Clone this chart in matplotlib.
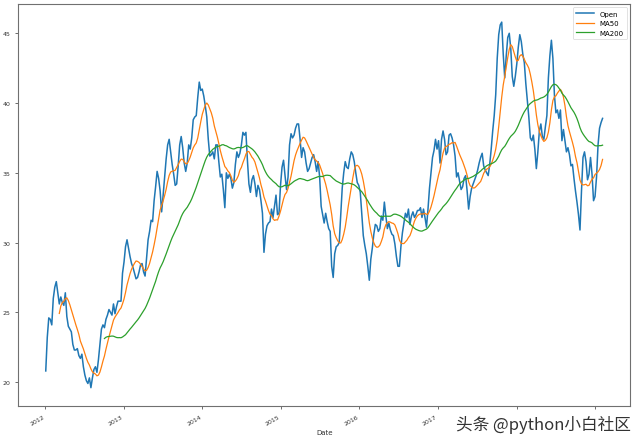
import numpy as np
import pandas as pd
import matplotlib
matplotlib.use('Agg')
import matplotlib.pyplot as plt

# weekly opening prices (Jan 2012 - Feb 2019)
start_date = '2012-01-03'
open_prices = [
    20.8, 23.2, 24.6, 24.5, 24.1, 26.0, 26.8, 27.2, 26.4, 25.6,
    26.1, 25.7, 25.5, 26.4, 24.7, 24.0, 23.8, 23.6, 22.7, 22.3,
    22.3, 22.4, 21.9, 21.7, 22.0, 21.1, 20.5, 20.1, 19.9, 20.3,
    19.6, 20.3, 20.9, 21.1, 20.7, 21.6, 22.7, 23.8, 24.1, 23.9,
    24.5, 24.8, 25.2, 25.0, 24.8, 25.6, 24.9, 25.4, 25.8, 25.8,
    25.8, 27.8, 28.6, 29.7, 30.2, 29.6, 29.0, 28.5, 28.2, 27.8,
    27.4, 27.5, 27.9, 28.4, 28.5, 27.9, 27.6, 28.9, 30.2, 30.8,
    31.6, 31.5, 33.0, 34.0, 35.1, 34.6, 33.7, 32.2, 33.4, 34.7,
    36.0, 37.0, 37.4, 36.5, 35.6, 34.9, 34.1, 34.2, 35.5, 37.0,
    37.6, 36.8, 35.7, 35.1, 35.7, 37.0, 36.7, 37.5, 38.8, 39.0,
    39.1, 40.4, 41.5, 40.9, 41.0, 40.5, 39.8, 39.0, 37.4, 36.2,
    36.3, 36.5, 36.0, 37.0, 37.0, 35.8, 34.7, 34.9, 33.8, 32.5,
    35.0, 34.6, 34.9, 34.6, 33.9, 34.3, 35.6, 36.5, 36.1, 36.4,
    37.0, 37.9, 37.7, 37.9, 35.9, 34.2, 33.6, 34.5, 34.8, 34.2,
    33.3, 34.1, 33.8, 33.0, 32.1, 29.3, 30.6, 31.2, 31.4, 31.5,
    32.4, 31.8, 32.6, 33.4, 32.0, 32.1, 34.1, 35.4, 35.9, 34.8,
    33.8, 34.7, 37.0, 37.8, 37.5, 37.7, 38.2, 38.5, 38.5, 37.4,
    36.1, 36.8, 36.5, 35.7, 35.1, 35.3, 35.7, 36.1, 36.3, 35.8,
    35.1, 35.8, 34.7, 32.6, 32.0, 31.4, 32.1, 31.5, 31.0, 30.8,
    28.3, 27.5, 29.2, 29.7, 29.8, 30.0, 31.9, 33.9, 35.0, 35.8,
    35.4, 35.3, 36.0, 36.5, 36.3, 35.8, 35.0, 34.3, 34.1, 33.6,
    32.1, 30.5, 29.8, 29.2, 28.3, 27.3, 28.8, 29.6, 30.6, 31.3,
    31.2, 30.8, 31.0, 31.9, 31.6, 32.9, 31.9, 31.0, 31.4, 30.9,
    30.6, 30.5, 29.9, 29.0, 28.3, 28.3, 29.7, 30.7, 31.4, 32.1,
    31.8, 32.4, 31.3, 31.9, 32.2, 31.8, 32.0, 32.3, 32.3, 32.5,
    31.8, 32.4, 31.8, 31.1, 32.4, 33.9, 35.0, 36.1, 36.6, 37.4,
    36.7, 37.3, 35.7, 37.4, 38.0, 37.4, 36.3, 36.5, 37.7, 37.8,
    37.5, 37.0, 36.2, 34.7, 35.0, 34.4, 33.8, 34.0, 34.6, 34.8,
    33.7, 32.4, 33.3, 33.9, 34.2, 34.5, 34.8, 35.2, 35.7, 36.1,
    36.4, 35.5, 35.2, 35.0, 34.8, 35.6, 36.7, 38.0, 39.1, 40.6,
    43.2, 44.9, 45.6, 45.8, 43.5, 41.8, 43.4, 44.7, 45.0, 43.9,
    41.9, 41.2, 41.9, 42.8, 44.0, 44.9, 44.4, 43.5, 42.9, 41.4,
    40.2, 39.0, 37.5, 37.3, 37.7, 36.7, 35.3, 36.5, 38.0, 38.5,
    37.6, 37.4, 38.3, 39.1, 41.8, 43.4, 44.5, 43.2, 40.6, 39.3,
    39.5, 38.9, 39.5, 37.3, 38.1, 37.3, 36.5, 36.8, 36.3, 35.5,
    35.6, 34.6, 33.7, 32.9, 32.0, 30.9, 33.7, 36.1, 36.5, 35.8,
    34.5, 34.9, 36.1, 34.9, 33.0, 33.3, 34.7, 37.0, 38.2, 38.6,
    38.9,
]

# 50 / 200 trading-day windows expressed in weeks
ma_windows = {'MA50': 10, 'MA200': 40}

df = pd.DataFrame({'Open': open_prices},
                  index=pd.date_range(start_date, periods=len(open_prices), freq='7D'))
df.index.name = 'Date'
for name, w in ma_windows.items():
    df[name] = df['Open'].rolling(w).mean()

fig = plt.figure(figsize=(6.4, 4.39), dpi=100)
ax = fig.add_axes([0.028, 0.073, 0.957, 0.916])

ax.plot(df.index, df['Open'], color='#1f77b4', lw=1.1, label='Open')
ax.plot(df.index, df['MA50'], color='#ff7f0e', lw=0.9, label='MA50')
ax.plot(df.index, df['MA200'], color='#2ca02c', lw=0.9, label='MA200')

ax.set_yticks([20, 25, 30, 35, 40, 45])
ax.tick_params(axis='both', labelsize=4.5, length=2, width=0.5, colors='#333333')
for lab in ax.get_xticklabels():
    lab.set_rotation(30)
    lab.set_ha('right')
for s in ax.spines.values():
    s.set_color('#707070')
    s.set_linewidth(0.8)

ax.set_xlabel('Date', fontsize=5, color='#333333', labelpad=2)
leg = ax.legend(loc='upper right', fontsize=5, handlelength=2.5, borderpad=0.5)
leg.get_frame().set_linewidth(0.5)

# watermark in the bottom right corner
fig.text(0.985, 0.012, '头条 @python小白社区', ha='right', va='bottom', fontsize=12,
         color='#333333', family=['Noto Sans CJK SC', 'DejaVu Sans'],
         bbox=dict(facecolor='white', edgecolor='none', pad=1))

fig.savefig('out.png', dpi=100)
